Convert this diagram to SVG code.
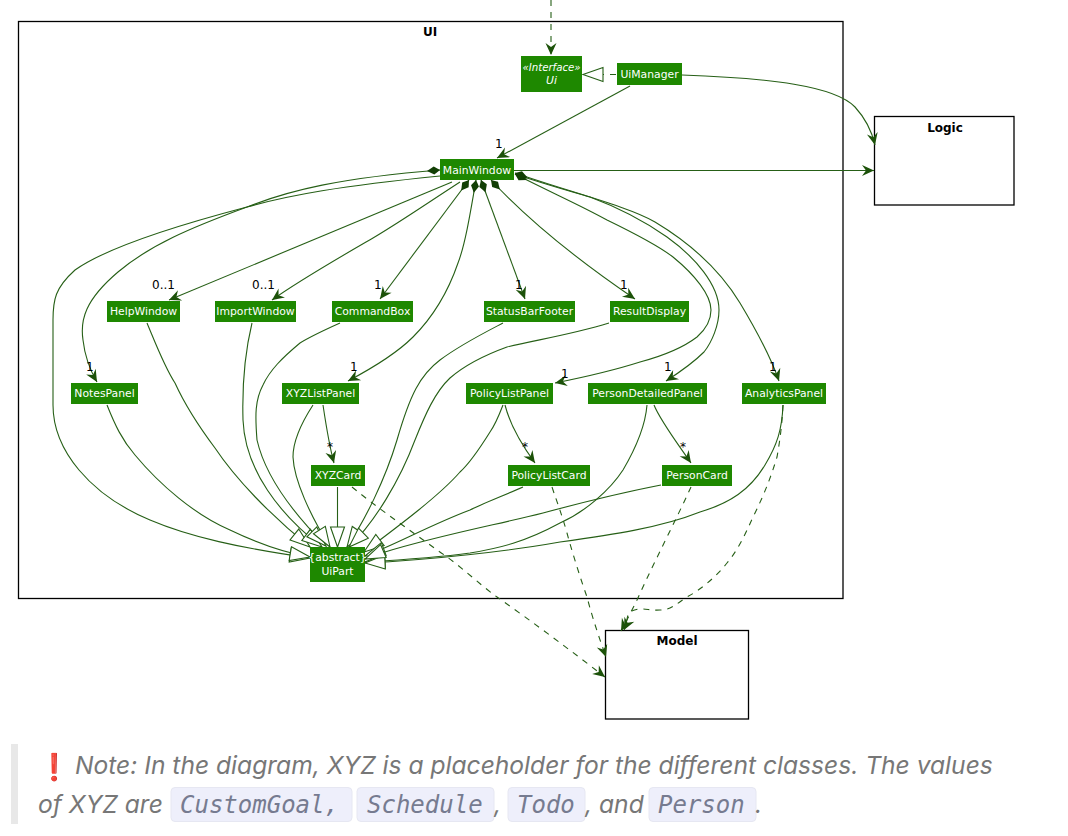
<svg xmlns="http://www.w3.org/2000/svg" width="1068" height="836" viewBox="0 0 1068 836">
<style>
.frame{fill:#fff;stroke:#000;stroke-width:1.3}
.box{fill:#1e8800}
.nt{font-family:"DejaVu Sans",sans-serif;font-size:10.8px;fill:#fff;text-anchor:middle}
.it{font-style:italic}
.ft{font-family:"DejaVu Sans",sans-serif;font-size:12px;font-weight:bold;fill:#000;text-anchor:middle}
.m{font-family:"DejaVu Sans",sans-serif;font-size:12px;fill:#000}
.c{fill:none;stroke:#265f16;stroke-width:1.1}
.d{stroke-dasharray:6 6}
.a{marker-end:url(#arrow)}
.h{marker-end:url(#tri)}
.s{marker-start:url(#dia)}
.note{font-family:Inter,sans-serif;font-style:italic;font-size:24.6px;fill:#777}
.code{font-family:"DejaVu Sans Mono",monospace;font-style:italic;font-size:24px;fill:#767b90}
.cb{fill:#eeeffb;stroke:#e6e7f2;stroke-width:1}
</style>
<defs>
<marker id="arrow" markerUnits="userSpaceOnUse" markerWidth="16" markerHeight="14" refX="13" refY="7" orient="auto"><path d="M1,1.5 L13,7 L1,12.5 L5,7 Z" fill="#1c5209"/></marker>
<marker id="tri" markerUnits="userSpaceOnUse" markerWidth="24" markerHeight="18" refX="22" refY="9" orient="auto"><path d="M2,2 L22,9 L2,16 Z" fill="#fff" stroke="#265f16" stroke-width="1.1"/></marker>
<marker id="dia" markerUnits="userSpaceOnUse" markerWidth="16" markerHeight="10" refX="1" refY="5" orient="auto"><path d="M1,5 L7,1 L14,5 L7,9 Z" fill="#123f05"/></marker>
</defs>
<rect width="1068" height="836" fill="#fff"/>
<g id="UI"><rect class="frame" x="18.5" y="21.5" width="824.5" height="577"/><text class="ft" x="430" y="36">UI</text></g>
<g id="Logic"><rect class="frame" x="874.5" y="116.5" width="139.5" height="88.5"/><text class="ft" x="945" y="132">Logic</text></g>
<g id="Model"><rect class="frame" x="605.5" y="630.5" width="143" height="88.5"/><text class="ft" x="677" y="645">Model</text></g>
<g id="connectors">
<path class="c d a" d="M551,0 L551,55"/>
<path class="c d h" d="M616,74.5 L583,74.5"/>
<path class="c a" d="M630,86 L497,158"/>
<path class="c a" d="M682,75 C770,78 835,86 855,107 C866,119 872,132 875,145"/>
<path class="c a" d="M514,170.5 L874,170.5"/>
<path class="c s a" d="M440,170 C340,178 290,190 247,207 C190,228 150,245 118,272 C85,300 80,320 83,340 C85,358 90,370 97,382"/>
<path class="c h" d="M440,176 C340,186 290,195 247,207 C190,222 110,245 75,270 C55,288 53,300 53,320 L53,405 C53,450 90,495 150,520 C190,537 240,548 310,558"/>
<path class="c a" d="M452,182 L169,300"/>
<path class="c a" d="M460,182 C420,208 400,222 373,238 C335,260 300,280 272,300"/>
<path class="c s a" d="M469,180 L380,299"/>
<path class="c s a" d="M476,180 C470,215 465,245 458,263 C447,295 430,320 413,337 C395,355 365,372 348,381"/>
<path class="c s a" d="M481,180 L525,299"/>
<path class="c s a" d="M491,180 C530,222 585,265 635,299"/>
<path class="c s a" d="M515,174 C550,192 580,205 607,220 C640,236 660,247 673,257 C695,275 711,295 711,310 C711,322 705,330 697,337 C680,350 655,358 640,362 C615,370 585,377 555,383"/>
<path class="c s a" d="M515,174 C550,186 570,191 590,197 C625,210 650,225 667,237 C695,257 719,285 719,310 C719,325 712,342 704,352 C692,364 680,372 666,381"/>
<path class="c s a" d="M515,173 C570,192 630,207 655,222 C690,243 720,270 740,303 C755,328 770,355 779,381"/>
<path class="c h" d="M147,323 C157,347 165,368 175,383 C185,405 200,428 215,448 C235,478 270,515 310,547"/>
<path class="c h" d="M252,323 C245,352 242,385 243,420 C245,470 280,515 322,547"/>
<path class="c h" d="M340,323 C320,332 308,338 300,343 C282,358 270,370 263,385 C255,400 255,415 257,440 C265,475 290,510 326,546"/>
<path class="c h" d="M313,405 C300,425 293,442 293,457 C294,480 310,515 330,547"/>
<path class="c a" d="M323,405 C326,425 329,445 334,463"/>
<path class="c" d="M337.5,487 L337.5,527"/>
<path class="c h" d="M337.5,527 L337.5,547"/>
<path class="c h" d="M503,323 C480,335 460,345 440,360 C420,375 410,395 397,440 C385,480 365,520 347,547"/>
<path class="c h" d="M609,323 C570,335 535,340 507,347 C485,355 465,365 450,378 C435,392 425,415 415,440 C400,480 375,522 349,547"/>
<path class="c h" d="M503,405 C498,418 495,425 490,432 C480,448 470,463 460,472 C440,495 400,525 364,552"/>
<path class="c a" d="M505,405 C510,425 522,445 535,463"/>
<path class="c h" d="M647,405 C645,430 633,453 623,470 C610,490 585,512 560,523 C525,542 500,548 470,553 C435,558 400,560 365,562"/>
<path class="c a" d="M654,405 C660,420 675,440 691,463"/>
<path class="c h" d="M783,405 C782,430 777,445 765,465 C750,490 730,503 700,512 C660,528 610,535 560,542 C510,551 430,560 365,563"/>
<path class="c h" d="M523,487 C500,497 480,505 470,510 C430,525 395,545 365,556"/>
<path class="c h" d="M661,485 C620,493 580,503 543,513 C500,524 440,535 385,552 C378,554 372,556 365,559"/>
<path class="c h" d="M107,405 C115,425 122,440 135,455 C160,485 195,515 230,530 C255,542 280,552 310,557"/>
<path class="c d a" d="M352,487 C380,510 410,530 437,550 C460,565 480,585 497,597 C530,620 570,650 605,677"/>
<path class="c d a" d="M552,487 C558,505 562,515 567,533 C573,555 581,580 587,597 C593,620 600,640 606,657"/>
<path class="c d a" d="M691,487 C675,522 655,560 637,600 C632,610 627,620 621,631"/>
<path class="c d a" d="M783,405 C782,425 780,440 777,457 C770,480 763,497 753,517 C745,535 738,550 727,563 C715,578 700,590 687,597 C675,605 670,610 660,610 C648,611 640,606 630,612 C626,616 628,622 624,630"/>
</g>
<g id="Ui-node"><rect class="box" x="521" y="56" width="61" height="36"/><text class="nt it" x="551.5" y="71" style="font-size:10.2px">«Interface»</text><text class="nt it" x="551.5" y="84">Ui</text></g>
<g id="UiManager"><rect class="box" x="617" y="63" width="65" height="22"/><text class="nt" x="649.5" y="78">UiManager</text></g>
<g id="MainWindow"><rect class="box" x="440" y="159" width="74" height="21"/><text class="nt" x="477" y="174">MainWindow</text></g>
<g id="HelpWindow"><rect class="box" x="107" y="301" width="73" height="21"/><text class="nt" x="143.5" y="315">HelpWindow</text></g>
<g id="ImportWindow"><rect class="box" x="215" y="301" width="81" height="21"/><text class="nt" x="255.5" y="315">ImportWindow</text></g>
<g id="CommandBox"><rect class="box" x="332" y="301" width="81" height="21"/><text class="nt" x="372.5" y="315">CommandBox</text></g>
<g id="StatusBarFooter"><rect class="box" x="484" y="301" width="91" height="21"/><text class="nt" x="529.5" y="315">StatusBarFooter</text></g>
<g id="ResultDisplay"><rect class="box" x="610" y="301" width="79" height="21"/><text class="nt" x="649.5" y="315">ResultDisplay</text></g>
<g id="NotesPanel"><rect class="box" x="71" y="383" width="67" height="21"/><text class="nt" x="104.5" y="397">NotesPanel</text></g>
<g id="XYZListPanel"><rect class="box" x="282" y="383" width="77" height="21"/><text class="nt" x="320.5" y="397">XYZListPanel</text></g>
<g id="PolicyListPanel"><rect class="box" x="466" y="383" width="87" height="21"/><text class="nt" x="509.5" y="397">PolicyListPanel</text></g>
<g id="PersonDetailedPanel"><rect class="box" x="588" y="383" width="119" height="21"/><text class="nt" x="647.5" y="397">PersonDetailedPanel</text></g>
<g id="AnalyticsPanel"><rect class="box" x="742" y="383" width="84" height="21"/><text class="nt" x="784" y="397">AnalyticsPanel</text></g>
<g id="XYZCard"><rect class="box" x="311" y="465" width="54" height="21"/><text class="nt" x="338" y="479">XYZCard</text></g>
<g id="PolicyListCard"><rect class="box" x="508" y="465" width="82" height="21"/><text class="nt" x="549" y="479">PolicyListCard</text></g>
<g id="PersonCard"><rect class="box" x="662" y="465" width="70" height="21"/><text class="nt" x="697" y="479">PersonCard</text></g>
<g id="UiPart"><rect class="box" x="310" y="547" width="55" height="35"/><text class="nt" x="337.5" y="561">{abstract}</text><text class="nt" x="337.5" y="575">UiPart</text></g>
<g id="labels">
<text class="m" x="495" y="148">1</text>
<text class="m" x="152" y="289">0..1</text>
<text class="m" x="252" y="289">0..1</text>
<text class="m" x="374" y="289">1</text>
<text class="m" x="515" y="289">1</text>
<text class="m" x="620" y="289">1</text>
<text class="m" x="86" y="371">1</text>
<text class="m" x="350" y="371">1</text>
<text class="m" x="561" y="378">1</text>
<text class="m" x="664" y="371">1</text>
<text class="m" x="769" y="371">1</text>
<text class="m" x="327" y="451">*</text>
<text class="m" x="522" y="451">*</text>
<text class="m" x="680" y="451">*</text>
</g>
<g id="note">
<rect x="11" y="744" width="7" height="80" fill="#e8e8e8"/>
<text x="38" y="776" style="font-family:'DejaVu Sans',sans-serif;font-size:26px;fill:#dd1d1d">❗</text>
<text class="note" x="75" y="774">Note: In the diagram, XYZ is a placeholder for the different classes. The values</text>
<text class="note" x="38" y="813">of XYZ are</text>
<rect class="cb" x="171" y="787.5" width="181" height="34" rx="4"/>
<text class="code" x="180" y="813">CustomGoal,</text>
<rect class="cb" x="357" y="787.5" width="137" height="34" rx="4"/>
<text class="code" x="367" y="813">Schedule</text>
<text class="note" x="494" y="813">,</text>
<rect class="cb" x="508" y="787.5" width="77" height="34" rx="4"/>
<text class="code" x="517" y="813">Todo</text>
<text class="note" x="585" y="813">, and</text>
<rect class="cb" x="649" y="787.5" width="107" height="34" rx="4"/>
<text class="code" x="658" y="813">Person</text>
<text class="note" x="755" y="813">.</text>
</g>
</svg>
